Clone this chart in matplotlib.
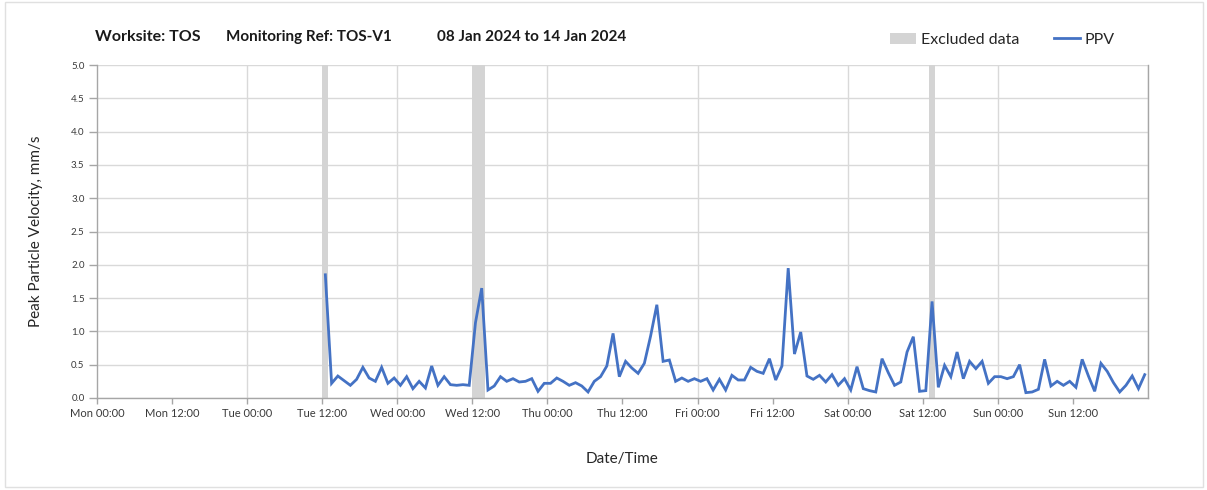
import numpy as np
import pandas as pd
import matplotlib
matplotlib.use("Agg")
import matplotlib.pyplot as plt
import matplotlib.dates as mdates
from matplotlib.patches import Patch, Rectangle
from matplotlib.lines import Line2D

plt.rcParams["font.family"] = ["Lato", "DejaVu Sans"]

# Hourly peak particle velocity (mm/s), first reading Tue 09 Jan 12:30
FIRST_READING = "2024-01-09 12:30"
PPV = [
    # Tue
    1.85, 0.22, 0.33, 0.26, 0.19, 0.28, 0.46, 0.30, 0.25, 0.46, 0.22, 0.30,
    # Wed
    0.19, 0.32, 0.14, 0.25, 0.15, 0.48, 0.19, 0.32, 0.20, 0.19, 0.20, 0.19,
    1.13, 1.65, 0.12, 0.18, 0.32, 0.25, 0.29, 0.24, 0.25, 0.29, 0.10, 0.22,
    # Thu
    0.22, 0.30, 0.25, 0.19, 0.23, 0.18, 0.09, 0.25, 0.32, 0.48, 0.97, 0.32,
    0.55, 0.45, 0.37, 0.52, 0.93, 1.40, 0.55, 0.57, 0.25, 0.30, 0.25, 0.29,
    # Fri
    0.25, 0.29, 0.12, 0.28, 0.12, 0.34, 0.27, 0.27, 0.46, 0.40, 0.37, 0.59,
    0.27, 0.48, 1.95, 0.66, 0.99, 0.33, 0.28, 0.34, 0.24, 0.35, 0.19, 0.29,
    # Sat
    0.12, 0.47, 0.14, 0.11, 0.09, 0.59, 0.38, 0.19, 0.24, 0.69, 0.92, 0.10,
    0.11, 1.45, 0.16, 0.49, 0.32, 0.69, 0.29, 0.55, 0.44, 0.55, 0.22, 0.32,
    # Sun
    0.32, 0.29, 0.32, 0.50, 0.08, 0.09, 0.13, 0.58, 0.18, 0.25, 0.19, 0.25,
    0.16, 0.58, 0.33, 0.10, 0.52, 0.40, 0.23, 0.09, 0.19, 0.33, 0.14, 0.35,
]

# Periods flagged as excluded
EXCLUDED_START = ["2024-01-09 12:00", "2024-01-10 12:00", "2024-01-13 13:00"]
EXCLUDED_END = ["2024-01-09 13:00", "2024-01-10 14:00", "2024-01-13 14:00"]

PERIOD_START = "2024-01-08 00:00"
PERIOD_END = "2024-01-15 00:00"
Y_TICKS = [0.0, 0.5, 1.0, 1.5, 2.0, 2.5, 3.0, 3.5, 4.0, 4.5, 5.0]

BLUE = "#4472C4"
GREY_BAND = "#d4d4d4"
GRID = "#d9d9d9"
AXIS = "#a6a6a6"

times = pd.date_range(FIRST_READING, periods=len(PPV), freq="h")

fig = plt.figure(figsize=(12.07, 4.90), dpi=100)
ax = fig.add_axes([0.0804, 0.1878, 0.8706, 0.6795])

# excluded data bands
for s, e in zip(EXCLUDED_START, EXCLUDED_END):
    ax.axvspan(pd.Timestamp(s), pd.Timestamp(e), color=GREY_BAND, lw=0, zorder=1)

# day gridlines and 0.5 mm/s gridlines
for d in pd.date_range(PERIOD_START, PERIOD_END, freq="D")[1:]:
    ax.axvline(d, color=GRID, lw=1.0, zorder=0)
ax.set_yticks(Y_TICKS)
ax.yaxis.grid(True, color=GRID, lw=1.0, zorder=0)
ax.set_axisbelow(True)

ax.plot(times, PPV, color=BLUE, lw=2.0, zorder=3, solid_joinstyle="miter")

ax.set_xlim(pd.Timestamp(PERIOD_START), pd.Timestamp(PERIOD_END))
ax.set_ylim(0, 5)

xt = pd.date_range(PERIOD_START, periods=14, freq="12h")
ax.set_xticks(xt)
ax.set_xticklabels([t.strftime("%a %H:%M") for t in xt])
ax.yaxis.set_major_formatter(matplotlib.ticker.FormatStrFormatter("%.1f"))

ax.tick_params(axis="x", labelsize=8, colors=AXIS, labelcolor="#3a3a3a",
               length=4, width=1, pad=3)
ax.tick_params(axis="y", labelsize=7, colors=AXIS, labelcolor="#3a3a3a",
               length=6, width=1, pad=3)

for side in ["left", "bottom", "right"]:
    ax.spines[side].set_color(AXIS)
    ax.spines[side].set_linewidth(1.0)
ax.spines["top"].set_visible(False)

ax.set_ylabel("Peak Particle Velocity, mm/s", fontsize=11, color="#262626", labelpad=20)
ax.set_xlabel("Date/Time", fontsize=11, color="#262626", labelpad=24)

# heading
head_y = 1 - 37 / 490
fig.text(95 / 1207, head_y, "Worksite: TOS", fontsize=11.5, fontweight="bold",
         va="center", ha="left", color="#1a1a1a")
fig.text(226 / 1207, head_y, "Monitoring Ref: TOS-V1", fontsize=11, fontweight="bold",
         va="center", ha="left", color="#1a1a1a")
fig.text(437 / 1207, head_y, "08 Jan 2024 to 14 Jan 2024", fontsize=11, fontweight="bold",
         va="center", ha="left", color="#1a1a1a")

handles = [Patch(facecolor=GREY_BAND, edgecolor="none", label="Excluded data"),
           Line2D([0], [0], color=BLUE, lw=2.0, label="PPV")]
fig.legend(handles=handles, loc="center left", bbox_to_anchor=(876 / 1207, 1 - 40 / 490),
           ncol=2, frameon=False, fontsize=11.5, handlelength=1.6, handletextpad=0.3,
           columnspacing=2.2, labelcolor="#262626")

# outer border
fig.patches.append(Rectangle((0.004, 0.006), 0.993, 0.99, transform=fig.transFigure,
                             fill=False, edgecolor="#e0e0e0", lw=1.0))

fig.savefig("out.png", dpi=100)
